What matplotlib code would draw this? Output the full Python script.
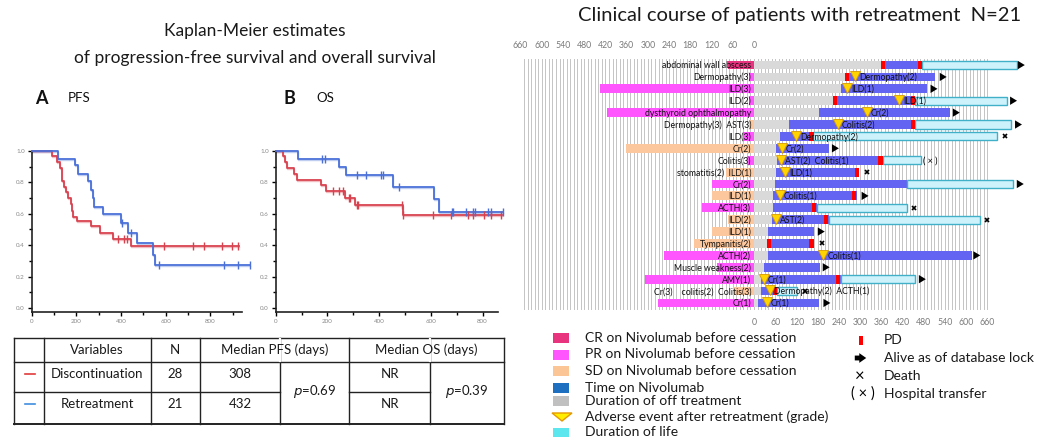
import numpy as np
import matplotlib
matplotlib.use('Agg')
import matplotlib.pyplot as plt
from matplotlib.patches import Rectangle, Polygon
from matplotlib.path import Path

plt.rcParams['font.family'] = ['Lato', 'DejaVu Sans']

W, H = 1049, 437

# ---------------- Kaplan-Meier data ----------------
pfs_disc_t = [0, 92, 112, 127, 137, 145, 154, 164, 175, 182, 187, 204, 264, 306, 363, 445]
pfs_disc_s = [1.0, 0.968, 0.93, 0.89, 0.81, 0.77, 0.74, 0.70, 0.66, 0.62, 0.58, 0.555, 0.52, 0.48, 0.44, 0.395]
pfs_disc_cens = [388, 413, 425, 592, 724, 772, 854, 897, 922]
pfs_disc_end = 930

pfs_retr_t = [0, 119, 194, 209, 254, 264, 273, 279, 318, 398, 433, 470, 545, 552]
pfs_retr_s = [1.0, 0.951, 0.909, 0.856, 0.808, 0.75, 0.698, 0.645, 0.596, 0.543, 0.48, 0.412, 0.338, 0.275]
pfs_retr_cens = [406, 443, 570, 861, 922, 975]
pfs_retr_end = 975

os_disc_t = [0, 27, 37, 43, 71, 81, 175, 195, 268, 307, 491]
os_disc_s = [1.0, 0.97, 0.93, 0.89, 0.854, 0.816, 0.784, 0.746, 0.70, 0.657, 0.593]
os_disc_cens = [220, 245, 262, 282, 288, 313, 320, 487, 494, 610, 677, 742, 764, 806, 831, 871]
os_disc_end = 875

os_retr_t = [0, 88, 245, 272, 455, 614, 632]
os_retr_s = [1.0, 0.949, 0.90, 0.847, 0.769, 0.693, 0.614]
os_retr_cens = [178, 191, 313, 348, 406, 416, 477, 681, 687, 735, 764, 771, 822, 831, 880]
os_retr_end = 880

km_xticks = [0, 200, 400, 600, 800]
km_yticks = [0.0, 0.2, 0.4, 0.6, 0.8, 1.0]

# ---------------- Table data ----------------
tbl_header = ['Variables', 'N', 'Median PFS (days)', 'Median OS (days)']
tbl_groups = ['Discontinuation', 'Retreatment']
tbl_n = ['28', '21']
tbl_pfs = ['308', '432']
tbl_os = ['NR', 'NR']
tbl_p_pfs = '0.69'
tbl_p_os = '0.39'

# ---------------- Swimmer data (days) ----------------
pre_days = [74, 14, 436, 14, 417, 14, 31, 363, 21, 79, 118, 120, 147, 74, 119, 170, 255, 105, 308, 59, 272]
pre_resp = ['CR', 'PR', 'PR', 'PR', 'PR', 'SD', 'PR', 'SD', 'PR', 'SD', 'PR', 'SD', 'PR', 'SD', 'SD', 'SD',
            'PR', 'PR', 'PR', 'SD', 'PR']
pre_labels = ['abdominal wall abscess', 'Dermopathy(3)', 'ILD(3)', 'ILD(2)', 'dysthyroid ophthalmopathy',
              'Dermopathy(3)  AST(3)', 'ILD(3)', 'Cr(2)', 'Colitis(3)', 'stomatitis(2)  ILD(1)', 'Cr(2)',
              'ILD(1)', 'ACTH(3)', 'ILD(2)', 'ILD(1)', 'Tympanitis(2)', 'ACTH(2)', 'Muscle weakness(2)',
              'AMY(1)', 'Cr(3)    colitis(2)  Colitis(3)', 'Cr(1)']
off_end = [358, 258, 246, 223, 184, 99, 74, 62, 64, 62, 59, 54, 54, 50, 41, 37, 40, 27, 19, 20, 11]
nivo_end = [475, 512, 489, 455, 555, 455, 168, 212, 364, 297, 432, 291, 177, 211, 171, 171, 616, 187, 245, 65, 185]
life_end = [744, None, None, 715, None, 726, 688, None, 473, None, 733, None, 432, 638, None, None, None, None,
            456, 123, None]
pd_days = [[358, 463], [258], [], [223, 443], [], [443], [157], [], [352], [286], [], [278], [164], [198], [],
           [37, 157], [], [], [232], [54], []]
ae_days = [None, 286, 264, 410, 319, 238, 119, 78, 76, 88, None, 74, None, 62, None, None, 196, None, 28, 45, 36]
ae_labels = [None, 'Dermopathy(2)', 'ILD(1)', 'ILD(1)', 'Cr(2)', 'Colitis(2)', 'Dermopathy(2)', 'Cr(2)',
             'AST(2)  Colitis(1)', 'ILD(1)', None, 'Colitis(1)', None, 'AST(2)', None, None, 'Colitis(1)', None,
             'Cr(1)', 'Dermopathy(2)  ACTH(1)', 'Cr(1)']
outcome = ['alive', 'alive', 'alive', 'alive', 'alive', 'alive', 'death', 'alive', 'transfer', 'death', 'alive',
           'alive', 'death', 'death', 'alive', 'death', 'alive', 'alive', 'alive', 'death', 'alive']
outcome_day = [761, 540, 514, 739, 577, 753, 710, 235, 498, 319, 758, 319, 453, 659, 195, 192, 635, 209, 481, 144, 211]
swim_ticks = [0, 60, 120, 180, 240, 300, 360, 420, 480, 540, 600, 660]

legend_left = ['CR on Nivolumab before cessation', 'PR on Nivolumab before cessation',
               'SD on Nivolumab before cessation', 'Time on Nivolumab', 'Duration of off treatment',
               'Adverse event after retreatment (grade)', 'Duration of life']
legend_right = ['PD', 'Alive as of database lock', 'Death', 'Hospital transfer']

# ---------------- styles ----------------
RED = '#d8424f'
BLUE = '#4a70d8'
resp_colors = {'CR': '#e8337f', 'PR': '#ff55ff', 'SD': '#fcc79c'}
NIVO = '#6464f2'
OFF = '#d9d9d9'
LIFE = '#cdf2fb'
LIFE_EDGE = '#3fb0c8'

fig = plt.figure(figsize=(W / 100, H / 100), dpi=100)


def ax_px(x0, y0, x1, y1):
    return fig.add_axes([x0 / W, 1 - y1 / H, (x1 - x0) / W, (y1 - y0) / H])


def step_val(t, s, x):
    i = np.searchsorted(t, x, side='right') - 1
    return s[i]


def km(ax, t, s, cens, end, color):
    tt = list(t) + [end]
    ss = list(s) + [s[-1]]
    ax.step(tt, ss, where='post', color=color, lw=1.3, clip_on=False, zorder=3)
    ax.step(tt, [v - 0.006 for v in ss], where='post', color=color, lw=1.0, alpha=0.35, clip_on=False, zorder=2)
    cy = [step_val(t, s, c) for c in cens]
    ax.plot(cens, cy, ls='none', marker='|', ms=6, mew=1.0, color=color, clip_on=False, zorder=4)


def style_km(ax, xmax):
    ax.set_xlim(0, xmax)
    ax.set_ylim(-0.024, 1.0)
    for sp in ['top', 'right']:
        ax.spines[sp].set_visible(False)
    for sp in ['left', 'bottom']:
        ax.spines[sp].set_linewidth(1.2)
        ax.spines[sp].set_color('#222222')
    ax.set_xticks(km_xticks)
    ax.set_xticks(np.arange(100, xmax, 200), minor=True)
    ax.set_yticks(km_yticks)
    ax.set_yticks(np.arange(0.1, 1.0, 0.2), minor=True)
    ax.set_yticklabels(['%.1f' % v for v in km_yticks])
    ax.tick_params(which='major', length=3, width=1, labelsize=4.5, labelcolor='#8a8a8a', pad=2)
    ax.tick_params(which='minor', length=2.5, width=1)
    ax.patch.set_visible(False)


axA = ax_px(31.7, 151, 241.7, 311.7)
km(axA, pfs_disc_t, pfs_disc_s, pfs_disc_cens, pfs_disc_end, RED)
km(axA, pfs_retr_t, pfs_retr_s, pfs_retr_cens, pfs_retr_end, BLUE)
style_km(axA, 940)

axB = ax_px(275.7, 151, 498.3, 311.7)
km(axB, os_disc_t, os_disc_s, os_disc_cens, os_disc_end, RED)
km(axB, os_retr_t, os_retr_s, os_retr_cens, os_retr_end, BLUE)
style_km(axB, 861)

# ---------------- Swimmer plot ----------------
axS = ax_px(515, 57.9, 1035, 310.1)
axS.set_xlim(-676, 795)
axS.set_ylim(21.6, 0.4)
axS.axis('off')
for d in range(-650, 661, 10):
    axS.axvline(d, color='#c4c4c4', lw=0.7, zorder=0, ymin=0.005, ymax=0.995)

bh = 0.74
rows = np.arange(1, len(pre_days) + 1)
axS.barh(rows, [-p for p in pre_days], left=0, height=bh, color=[resp_colors[r] for r in pre_resp], zorder=2)
axS.barh(rows, off_end, left=0, height=bh, color=OFF, zorder=2)
axS.barh(rows, [n - o for n, o in zip(nivo_end, off_end)], left=off_end, height=bh, color=NIVO, zorder=2)
for i, y in enumerate(rows):
    if life_end[i] is not None:
        axS.barh(y, life_end[i] - nivo_end[i], left=nivo_end[i], height=bh * 0.92, color=LIFE,
                 edgecolor=LIFE_EDGE, lw=1.0, zorder=2)
    for p in pd_days[i]:
        axS.barh(y, 12, left=p, height=bh, color='#ff0000', zorder=3)
    axS.text(-8, y + 0.05, pre_labels[i], ha='right', va='center', fontsize=6.3, color='#111111', zorder=5)
    if ae_days[i] is not None:
        axS.plot(ae_days[i], y - 0.05, marker='v', ms=6.5, mfc='#ffd400', mec='#d99a00', mew=0.6, zorder=4,
                 ls='none')
        axS.text(ae_days[i] + 11, y + 0.05, ae_labels[i], ha='left', va='center', fontsize=6.3,
                 color='#111111', zorder=5)
    if outcome[i] == 'alive':
        axS.annotate('', xy=(outcome_day[i] + 13, y), xytext=(outcome_day[i] - 11, y),
                     arrowprops=dict(arrowstyle='simple,head_length=0.5,head_width=0.6,tail_width=0.3',
                                     color='black', lw=0), zorder=5)
    elif outcome[i] == 'death':
        axS.plot(outcome_day[i], y, marker='x', ms=3.5, mew=1.2, color='black', ls='none', zorder=5)
    else:
        axS.text(outcome_day[i], y + 0.05, '( × )', ha='center', va='center', fontsize=6.5, color='black',
                 zorder=5)

top_tr = axS.get_xaxis_transform()
for t in swim_ticks:
    axS.text(-t, 1.05, str(t), transform=top_tr, ha='center', va='center', fontsize=6.3, color='#7a7a7a')
    axS.text(t, -0.05, str(t), transform=top_tr, ha='center', va='center', fontsize=6.3, color='#7a7a7a')

# ---------------- overlay (titles, legend, table) ----------------
ov = fig.add_axes([0, 0, 1, 1])
ov.set_xlim(0, W)
ov.set_ylim(H, 0)
ov.axis('off')
ov.patch.set_visible(False)

ov.text(255, 31, 'Kaplan-Meier estimates', ha='center', va='center', fontsize=12.5, color='#1a1a1a')
ov.text(255, 58, 'of progression-free survival and overall survival', ha='center', va='center',
        fontsize=12.5, color='#1a1a1a')
ov.text(41, 98, 'A', ha='center', va='center', fontsize=13, fontweight='bold', color='#111111')
ov.text(68, 98, 'PFS', ha='left', va='center', fontsize=9.5, color='#111111')
ov.text(289, 98, 'B', ha='center', va='center', fontsize=13, fontweight='bold', color='#111111')
ov.text(316, 98, 'OS', ha='left', va='center', fontsize=9.5, color='#111111')
ov.text(800, 16, 'Clinical course of patients with retreatment  N=21', ha='center', va='center',
        fontsize=14.5, color='#1a1a1a')

# legend left
leg_y = [338, 354.5, 371, 387.5, 401, 417, 432.5]
leg_cols = [resp_colors['CR'], resp_colors['PR'], '#fcc596', '#1f6fc0', '#c0c0c0', None, '#5ce6ee']
for y, c, lab in zip(leg_y, leg_cols, legend_left):
    if c is None:
        ov.add_patch(Polygon([(552, y - 4), (572, y - 4), (562, y + 4)], closed=True, fc='#ffee00',
                             ec='#e59a00', lw=1.0))
    else:
        ov.add_patch(Rectangle((553, y - 5), 16, 10, fc=c, ec='none'))
    ov.text(585, y, lab, ha='left', va='center', fontsize=10, color='#1a1a1a')

# legend right
rl_y = [340.5, 358, 376, 394]
ov.add_patch(Rectangle((858.5, rl_y[0] - 4.5), 4.5, 9, fc='#ff0000', ec='none'))
ov.annotate('', xy=(869, rl_y[1]), xytext=(852, rl_y[1]),
            arrowprops=dict(arrowstyle='simple,head_length=0.5,head_width=0.7,tail_width=0.35',
                            color='black', lw=0))
ov.text(860, rl_y[2], '×', ha='center', va='center', fontsize=12, color='black')
ov.text(863, rl_y[3], '( × )', ha='center', va='center', fontsize=10.5, color='black')
for y, lab in zip(rl_y, legend_right):
    ov.text(884, y, lab, ha='left', va='center', fontsize=10, color='#1a1a1a')

# table
xs = [14, 43.7, 150.7, 200, 280.3, 349.3, 430.3, 504]
ys = [338.3, 361.7, 392, 424]
lc = '#222222'
for x in xs:
    ov.plot([x, x], [ys[0], ys[3]], color=lc, lw=1.0)
ov.plot([xs[0], xs[-1]], [ys[0], ys[0]], color=lc, lw=1.0)
ov.plot([xs[0], xs[-1]], [ys[1], ys[1]], color=lc, lw=1.0)
ov.plot([xs[0], xs[4]], [ys[2], ys[2]], color=lc, lw=1.0)
ov.plot([xs[5], xs[6]], [ys[2], ys[2]], color=lc, lw=1.0)
ov.plot([xs[0], xs[-1]], [ys[3], ys[3]], color=lc, lw=1.4)
# remove internal header dividers for merged header cells
ov.plot([xs[4], xs[4]], [ys[0] + 0.5, ys[1] - 0.5], color='white', lw=1.6)
ov.plot([xs[6], xs[6]], [ys[0] + 0.5, ys[1] - 0.5], color='white', lw=1.6)

fs_t = 9.5
hy = (ys[0] + ys[1]) / 2
ov.text((xs[1] + xs[2]) / 2, hy, tbl_header[0], ha='center', va='center', fontsize=fs_t, color='#1a1a1a')
ov.text((xs[2] + xs[3]) / 2, hy, tbl_header[1], ha='center', va='center', fontsize=fs_t, color='#1a1a1a')
ov.text((xs[3] + xs[5]) / 2, hy, tbl_header[2], ha='center', va='center', fontsize=fs_t, color='#1a1a1a')
ov.text((xs[5] + xs[7]) / 2, hy, tbl_header[3], ha='center', va='center', fontsize=fs_t, color='#1a1a1a')
row_y = [373.5, 404]
dash_cols = ['#e03a3a', '#3f8ee0']
for k in range(2):
    ov.plot([25, 35], [row_y[k], row_y[k]], color=dash_cols[k], lw=1.2)
    ov.text((xs[1] + xs[2]) / 2, row_y[k], tbl_groups[k], ha='center', va='center', fontsize=fs_t, color='#1a1a1a')
    ov.text((xs[2] + xs[3]) / 2, row_y[k], tbl_n[k], ha='center', va='center', fontsize=fs_t, color='#1a1a1a')
    ov.text((xs[3] + xs[4]) / 2, row_y[k], tbl_pfs[k], ha='center', va='center', fontsize=fs_t, color='#1a1a1a')
    ov.text((xs[5] + xs[6]) / 2, row_y[k], tbl_os[k], ha='center', va='center', fontsize=fs_t, color='#1a1a1a')
ov.text((xs[4] + xs[5]) / 2, 391, r'$p$=' + tbl_p_pfs, ha='center', va='center', fontsize=fs_t, color='#1a1a1a')
ov.text((xs[6] + xs[7]) / 2, 391, r'$p$=' + tbl_p_os, ha='center', va='center', fontsize=fs_t, color='#1a1a1a')

fig.savefig('out.png', dpi=100)
